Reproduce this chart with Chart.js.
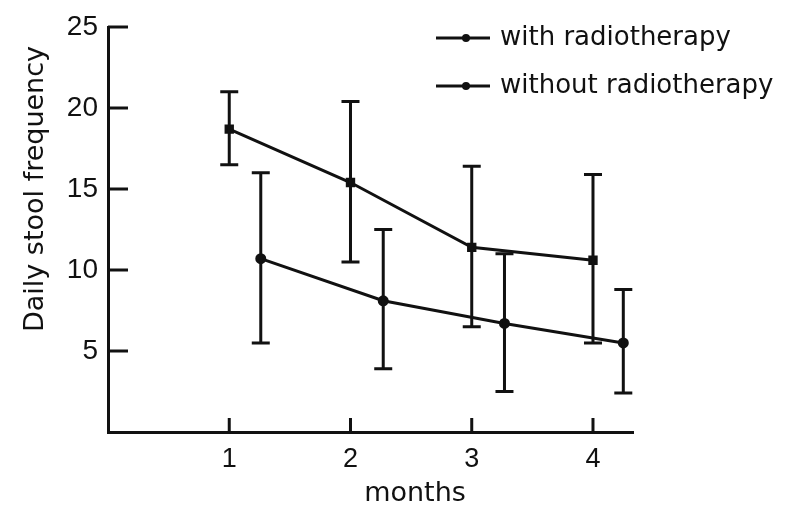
<!DOCTYPE html>
<html>
<head>
<meta charset="utf-8">
<script src="https://cdn.jsdelivr.net/npm/chart.js@4"></script>
<style>
  html, body { margin: 0; padding: 0; background: #fff; }
  canvas { display: block; }
</style>
</head>
<body>
<canvas id="stool-chart" width="810" height="511"></canvas>
<script>
// values
const monthsWith = [1, 2, 3, 4];
const meanWith = [18.7, 15.4, 11.4, 10.6];
const lowWith = [16.5, 10.5, 6.5, 5.5];
const highWith = [21.0, 20.4, 16.4, 15.9];

// second group is drawn a little to the right of each month
const monthsWithout = [1.26, 2.27, 3.27, 4.25];
const meanWithout = [10.7, 8.1, 6.7, 5.5];
const lowWithout = [5.5, 3.9, 2.5, 2.4];
const highWithout = [16.0, 12.5, 11.0, 8.8];

const xTicks = [1, 2, 3, 4];
const yTicks = [5, 10, 15, 20, 25];
const seriesNames = ['with radiotherapy', 'without radiotherapy'];

const ink = '#111';

function toPoints(xs, ys) {
  return xs.map((x, i) => ({ x: x, y: ys[i] }));
}

// error bars, axis ticks, titles and legend
const extras = {
  id: 'extras',
  afterDatasetsDraw(chart) {
    const ctx = chart.ctx;
    const xs = chart.scales.x, ys = chart.scales.y;
    ctx.save();
    ctx.strokeStyle = ink;
    ctx.lineWidth = 3;
    chart.data.datasets.forEach(ds => {
      ds.data.forEach((p, i) => {
        const px = xs.getPixelForValue(p.x);
        const top = ys.getPixelForValue(ds.errHigh[i]);
        const bot = ys.getPixelForValue(ds.errLow[i]);
        ctx.beginPath();
        ctx.moveTo(px, top); ctx.lineTo(px, bot);
        ctx.moveTo(px - 9, top); ctx.lineTo(px + 9, top);
        ctx.moveTo(px - 9, bot); ctx.lineTo(px + 9, bot);
        ctx.stroke();
      });
    });
    ctx.restore();
  },
  afterDraw(chart) {
    const ctx = chart.ctx;
    const xs = chart.scales.x, ys = chart.scales.y;
    const area = chart.chartArea;
    ctx.save();
    ctx.strokeStyle = ink;
    ctx.fillStyle = ink;
    ctx.lineWidth = 3;
    // inward ticks
    yTicks.forEach(v => {
      const py = ys.getPixelForValue(v);
      ctx.beginPath();
      ctx.moveTo(area.left, py); ctx.lineTo(area.left + 20, py);
      ctx.stroke();
    });
    xTicks.forEach(v => {
      const px = xs.getPixelForValue(v);
      ctx.beginPath();
      ctx.moveTo(px, area.bottom); ctx.lineTo(px, area.bottom - 14);
      ctx.stroke();
    });

    // axis titles
    ctx.font = '27px "DejaVu Sans"';
    ctx.textAlign = 'center';
    ctx.textBaseline = 'middle';
    ctx.fillText('months', 415, 494);
    ctx.save();
    ctx.translate(36, 189);
    ctx.rotate(-Math.PI / 2);
    ctx.fillText('Daily stool frequency', 0, 0);
    ctx.restore();

    // legend
    ctx.font = '26px "DejaVu Sans"';
    ctx.textAlign = 'left';
    const rows = [38, 86];
    rows.forEach((ry, i) => {
      ctx.lineWidth = 3;
      ctx.beginPath();
      ctx.moveTo(436, ry); ctx.lineTo(490, ry);
      ctx.stroke();
      ctx.beginPath();
      ctx.arc(466, ry, 4, 0, Math.PI * 2);
      ctx.fill();
      ctx.fillText(seriesNames[i], 500, ry);
    });
    ctx.restore();
  }
};

new Chart(document.getElementById('stool-chart'), {
  type: 'scatter',
  data: {
    datasets: [
      {
        label: seriesNames[0],
        data: toPoints(monthsWith, meanWith),
        errLow: lowWith,
        errHigh: highWith,
        showLine: true,
        borderColor: ink,
        backgroundColor: ink,
        borderWidth: 3,
        pointRadius: 4.5,
        pointStyle: 'rect'
      },
      {
        label: seriesNames[1],
        data: toPoints(monthsWithout, meanWithout),
        errLow: lowWithout,
        errHigh: highWithout,
        showLine: true,
        borderColor: ink,
        backgroundColor: ink,
        borderWidth: 3,
        pointRadius: 4
      }
    ]
  },
  options: {
    responsive: false,
    animation: false,
    layout: { padding: { top: 27, right: 177, left: 0, bottom: 0 } },
    plugins: {
      legend: { display: false },
      tooltip: { enabled: false }
    },
    scales: {
      x: {
        type: 'linear',
        min: 0,
        max: 4.33,
        afterBuildTicks(scale) { scale.ticks = xTicks.map(v => ({ value: v })); },
        afterFit(scale) { scale.height = 79; },
        grid: { display: false, drawTicks: false },
        border: { display: true, color: ink, width: 3 },
        ticks: {
          color: ink,
          padding: 11,
          font: { family: 'Liberation Sans', size: 27 }
        }
      },
      y: {
        min: 0,
        max: 25,
        afterBuildTicks(scale) { scale.ticks = yTicks.map(v => ({ value: v })); },
        afterFit(scale) { scale.width = 108; },
        grid: { display: false, drawTicks: false },
        border: { display: true, color: ink, width: 3 },
        ticks: {
          color: ink,
          padding: 10,
          font: { family: 'Liberation Sans', size: 28 }
        }
      }
    }
  },
  plugins: [extras]
});
</script>
</body>
</html>
